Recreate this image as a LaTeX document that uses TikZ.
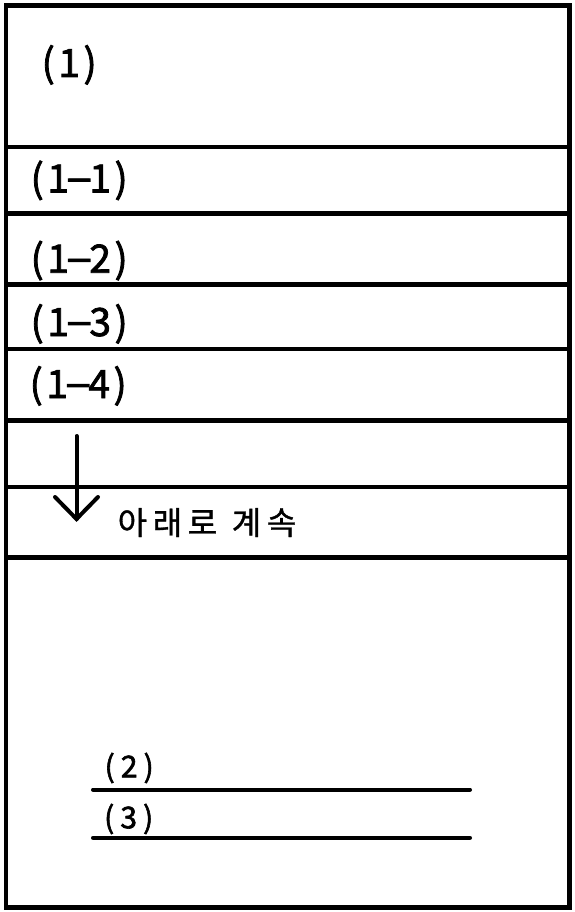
\documentclass[tikz,border=0pt]{standalone}
\usepackage{fontspec}
\setmainfont{Noto Sans CJK KR}
\newfontfamily\numfont[FakeBold=2]{Noto Sans CJK KR}
\newfontfamily\krfont[FakeBold=1]{Noto Sans CJK KR}
\newcommand{\cbA}[1]{\makebox[21pt][c]{#1}}
\newcommand{\cbB}[1]{\makebox[19.5pt][c]{#1}}
\newcommand{\dashA}{\makebox[21pt][c]{\raisebox{1.5pt}{\scalebox{2.1}[1]{-}}}}
\begin{document}
\begin{tikzpicture}[x=1pt,y=-1pt,
  frame/.style={line width=4.5pt},
  rule/.style={line width=4.5pt},
  uline/.style={line width=4pt,line cap=round},
  arr/.style={line width=4pt,line cap=round,line join=miter},
  biglab/.style={anchor=base west,inner sep=0pt,font=\fontsize{39}{39}\numfont},
  smalllab/.style={anchor=base west,inner sep=0pt,font=\fontsize{30}{30}\numfont},
  krlab/.style={anchor=base west,inner sep=0pt,font=\fontsize{32}{32}\krfont}]
\useasboundingbox (0,0) rectangle (574,912);
\fill[white] (0,0) rectangle (574,912);
% outer frame
\draw[frame] (6,5.5) rectangle (569.5,907.5);
% row separators
\foreach \yy in {147,213.5,284.5,349,420.5,487,557.5}
  \draw[rule] (6,\yy) -- (569.5,\yy);
% labels
\node[biglab] (l1) at (37.5,77) {\cbA(\cbA1\cbA)};
\node[biglab] (l11) at (26.5,192.5) {\cbA(\cbA1\dashA\cbA1\cbA)};
\node[biglab] (l12) at (26.5,272.7) {\cbA(\cbA1\dashA\cbA2\cbA)};
\node[biglab] (l13) at (26.5,336) {\cbA(\cbA1\dashA\cbA3\cbA)};
\node[biglab] (l14) at (25.5,398) {\cbA(\cbA1\dashA\cbA4\cbA)};
% arrow
\coordinate (as) at (76.5,436);
\coordinate (at) at (76.5,519);
\coordinate (al) at (55,497);
\coordinate (ar) at (98,497);
\draw[arr] (as) -- (at);
\draw[arr] (al) -- (at) -- (ar);
\node[krlab] (cont) at (117.5,534.5) {아\kern5.6pt 래\kern5.6pt 로\kern14.6pt 계\kern5.6pt 속};
% bottom lines
\node[smalllab] (l2) at (99.75,777.3) {\cbB(\cbB2\cbB)};
\node[smalllab] (l3) at (99.25,828.3) {\cbB(\cbB3\cbB)};
\coordinate (u1a) at (93,789.5);
\coordinate (u1b) at (470,789.5);
\coordinate (u2a) at (93,837.7);
\coordinate (u2b) at (470,837.7);
\draw[uline] (u1a) -- (u1b);
\draw[uline] (u2a) -- (u2b);
\end{tikzpicture}
\end{document}
